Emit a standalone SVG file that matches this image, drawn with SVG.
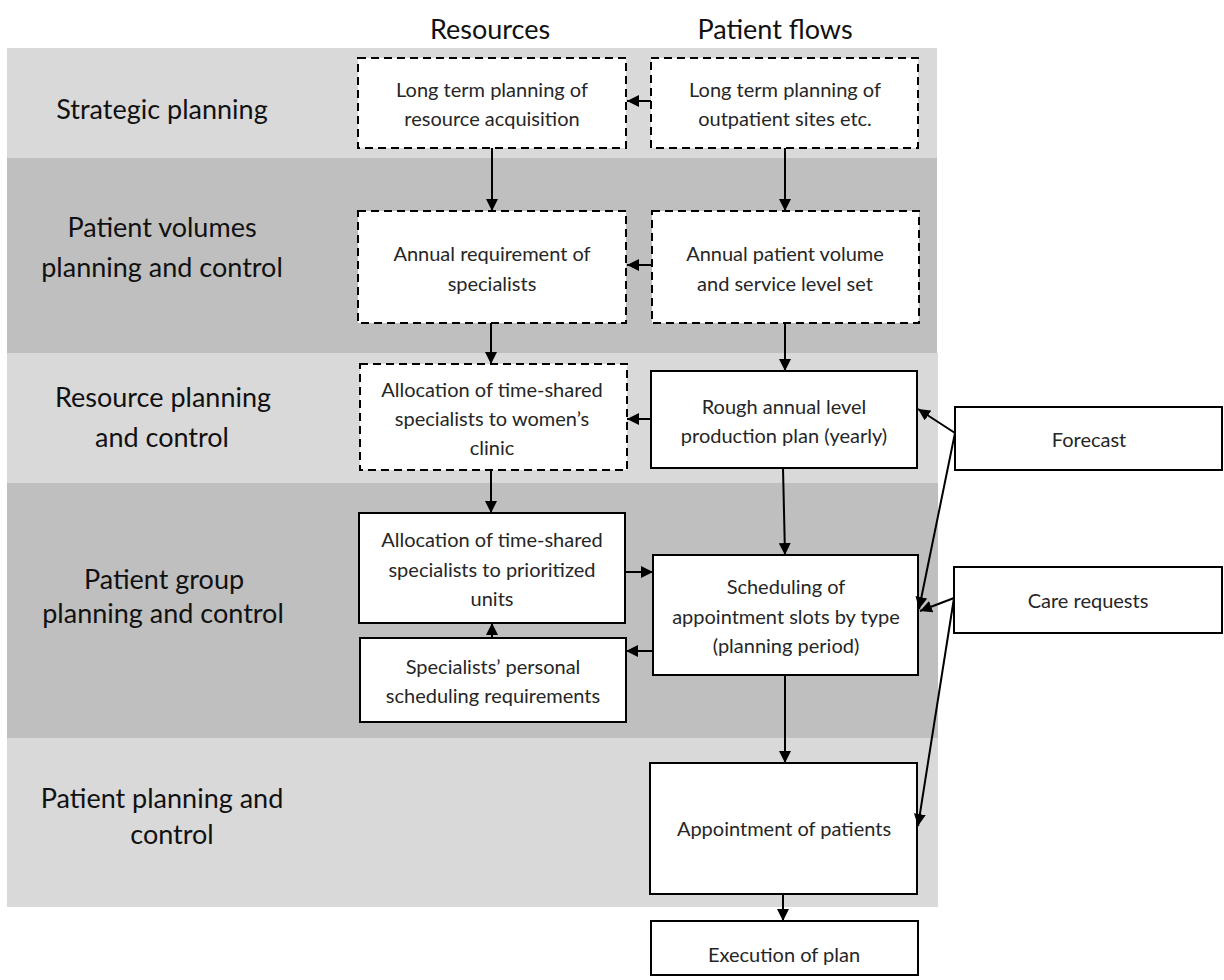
<svg xmlns="http://www.w3.org/2000/svg" width="1224" height="980" viewBox="0 0 1224 980">
<defs>
<marker id="ah" viewBox="0 0 10 10" refX="10" refY="5" markerWidth="12" markerHeight="12" markerUnits="userSpaceOnUse" orient="auto">
<path d="M0,0 L10,5 L0,10 z" fill="#000"/>
</marker>
<style>
.lt{fill:#d9d9d9}
.dk{fill:#bfbfbf}
.box{fill:#fff;stroke:#000;stroke-width:2}
.dash{fill:#fff;stroke:#000;stroke-width:2;stroke-dasharray:8 5}
.t{font-family:Lato,"Liberation Sans",sans-serif;font-size:20px;fill:#262626;text-anchor:middle;dominant-baseline:central}
.lab{font-family:Lato,"Liberation Sans",sans-serif;font-size:27px;fill:#111;text-anchor:middle;dominant-baseline:central}
.c{stroke:#000;stroke-width:2;fill:none;marker-end:url(#ah)}
</style>
</defs>
<rect width="1224" height="980" fill="#fff"/>
<g id="bands">
<rect class="lt" x="7" y="48" width="930" height="110"/>
<rect class="dk" x="7" y="158" width="930" height="195"/>
<rect class="lt" x="7" y="353" width="931" height="130"/>
<rect class="dk" x="7" y="483" width="931" height="255"/>
<rect class="lt" x="7" y="738" width="931" height="169"/>
</g>
<g id="headers">
<text class="lab" x="490" y="28">Resources</text>
<text class="lab" x="775" y="28">Patient flows</text>
</g>
<g id="levels">
<text class="lab" x="162" y="108">Strategic planning</text>
<text class="lab" x="162" y="226">Patient volumes</text>
<text class="lab" x="162" y="266">planning and control</text>
<text class="lab" x="163" y="396">Resource planning</text>
<text class="lab" x="162" y="436">and control</text>
<text class="lab" x="164" y="578">Patient group</text>
<text class="lab" x="163" y="612">planning and control</text>
<text class="lab" x="162" y="797">Patient planning and</text>
<text class="lab" x="172" y="833">control</text>
</g>
<g id="r1"><rect class="dash" x="358" y="58" width="268" height="90"/><text class="t" x="492" y="89">Long term planning of</text><text class="t" x="492" y="118">resource acquisition</text></g>
<g id="p1"><rect class="dash" x="651" y="58" width="267" height="90"/><text class="t" x="785" y="89">Long term planning of</text><text class="t" x="785" y="118">outpatient sites etc.</text></g>
<g id="r2"><rect class="dash" x="358" y="211" width="268" height="112"/><text class="t" x="492" y="253">Annual requirement of</text><text class="t" x="492" y="283">specialists</text></g>
<g id="p2"><rect class="dash" x="652" y="211" width="267" height="112"/><text class="t" x="785" y="253">Annual patient volume</text><text class="t" x="785" y="283">and service level set</text></g>
<g id="r3"><rect class="dash" x="360" y="364" width="267" height="106"/><text class="t" x="492" y="389">Allocation of time-shared</text><text class="t" x="492" y="418">specialists to women’s</text><text class="t" x="492" y="447">clinic</text></g>
<g id="p3"><rect class="box" x="651" y="371" width="266" height="97"/><text class="t" x="784" y="406">Rough annual level</text><text class="t" x="784" y="435">production plan (yearly)</text></g>
<g id="r4"><rect class="box" x="359" y="513" width="266" height="110"/><text class="t" x="492" y="539">Allocation of time-shared</text><text class="t" x="492" y="569">specialists to prioritized</text><text class="t" x="492" y="598">units</text></g>
<g id="r5"><rect class="box" x="360" y="638" width="266" height="84"/><text class="t" x="493" y="666">Specialists’ personal</text><text class="t" x="493" y="695">scheduling requirements</text></g>
<g id="p4"><rect class="box" x="653" y="555" width="265" height="120"/><text class="t" x="786" y="586">Scheduling of</text><text class="t" x="786" y="616">appointment slots by type</text><text class="t" x="786" y="645">(planning period)</text></g>
<g id="p5"><rect class="box" x="650" y="763" width="267" height="131"/><text class="t" x="784" y="828">Appointment of patients</text></g>
<g id="p6"><rect class="box" x="651" y="921" width="267" height="54"/><text class="t" x="784" y="954">Execution of plan</text></g>
<g id="forecast"><rect class="box" x="955" y="407" width="267" height="63"/><text class="t" x="1089" y="439">Forecast</text></g>
<g id="care"><rect class="box" x="954" y="567" width="268" height="66"/><text class="t" x="1088" y="600">Care requests</text></g>
<g id="connectors">
<line class="c" x1="651" y1="101" x2="627" y2="101"/>
<line class="c" x1="652" y1="265" x2="627" y2="265"/>
<line class="c" x1="492" y1="148" x2="492" y2="211"/>
<line class="c" x1="785" y1="148" x2="785" y2="211"/>
<line class="c" x1="491" y1="323" x2="491" y2="364"/>
<line class="c" x1="785" y1="323" x2="785" y2="371"/>
<line class="c" x1="651" y1="419" x2="627" y2="419"/>
<line class="c" x1="491" y1="470" x2="491" y2="513"/>
<line class="c" x1="783" y1="468" x2="785" y2="555"/>
<line class="c" x1="625" y1="572" x2="653" y2="572"/>
<line class="c" x1="653" y1="651" x2="626" y2="651"/>
<line class="c" x1="492" y1="638" x2="492" y2="623"/>
<line class="c" x1="785" y1="675" x2="785" y2="763"/>
<line class="c" x1="783" y1="894" x2="783" y2="921"/>
<line class="c" x1="955" y1="433" x2="918" y2="409"/>
<line class="c" x1="955" y1="433" x2="919" y2="609"/>
<line class="c" x1="954" y1="598" x2="920" y2="611"/>
<line class="c" x1="954" y1="598" x2="918" y2="826"/>
</g>
</svg>
